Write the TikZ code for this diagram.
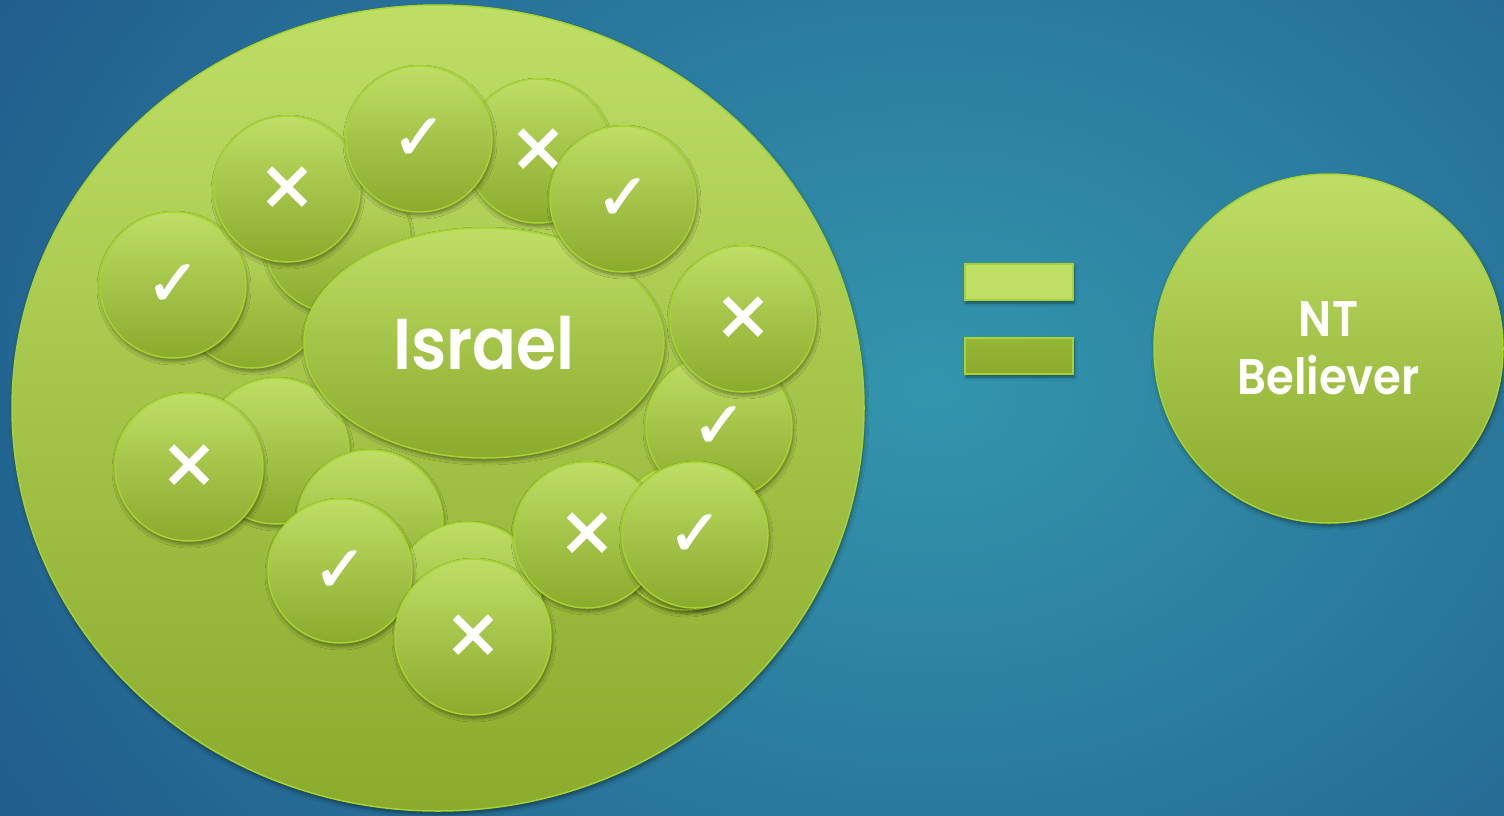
\documentclass[tikz,border=0pt]{standalone}
\usepackage{fontspec}
\setmainfont{Poppins}[BoldFont={Poppins SemiBold}, FakeStretch=0.9]
\newfontfamily\symfont{DejaVu Sans}[FakeBold=2]
\usetikzlibrary{shapes.geometric,shadows.blur}
\definecolor{gtop}{RGB}{190,222,102}
\definecolor{gbot}{RGB}{138,171,44}
\definecolor{gedge}{RGB}{168,212,48}
\definecolor{bgin}{RGB}{51,150,173}
\definecolor{bgout}{RGB}{30,84,136}
\newcommand\mkcheck{{\symfont\fontsize{64}{64}\selectfont ✓}}
\newcommand\mkcross{{\symfont\fontsize{66}{66}\selectfont ✕}}
\tikzset{
  greenfill/.style={top color=gtop, bottom color=gbot, draw=gedge, line width=1.5pt,
    blur shadow={shadow xshift=1pt, shadow yshift=-3pt, shadow blur steps=6, shadow opacity=45, shadow blur radius=4pt}},
  ball/.style={greenfill, circle, inner sep=0pt, minimum size=146pt, text=white},
  eqbar/.style={draw=gedge, line width=2pt, rectangle, inner sep=0pt, minimum width=108pt, minimum height=36pt,
    blur shadow={shadow xshift=1pt, shadow yshift=-3pt, shadow blur steps=5, shadow opacity=45, shadow blur radius=3pt}},
}
\begin{document}
\begin{tikzpicture}[x=1pt,y=-1pt]
\useasboundingbox (0,0) rectangle (1504,815);
\begin{scope}
\clip (0,0) rectangle (1504,815);
\fill[bgout] (-5,-5) rectangle (1510,820);
\shade[inner color=bgin, outer color=bgout] (930,390) ellipse [x radius=1250, y radius=950];
\end{scope}
% big circle
\node[greenfill, ellipse, inner sep=0pt, minimum width=852pt, minimum height=806pt] (group) at (438,408) {};
% unmarked circles behind
\node[ball] (b1) at (252,295) {};
\node[ball] (b2) at (337,240) {};
\node[ball] (b3) at (276,451) {};
\node[ball] (b4) at (370,523) {};
\node[ball] (b5) at (468,595) {};
\node[ball] (b6) at (686,537) {};
% Israel
\node[greenfill, ellipse, inner sep=0pt, minimum width=360pt, minimum height=230pt, text=white,
  font=\bfseries\fontsize{72}{72}\selectfont] (israel) at (484,343) {Israel};
% marked circles
\node[ball] (m1) at (173,285) {\mkcheck};
\node[ball] (m2) at (287,189) {\mkcross};
\node[ball, minimum size=144pt] (m3) at (538,151) {\mkcross};
\node[ball] (m4) at (419,139) {\mkcheck};
\node[ball] (m5) at (623,199) {\mkcheck};
\node[ball] (m6) at (719,427) {\mkcheck};
\node[ball] (m7) at (743,319) {\mkcross};
\node[ball, minimum size=148pt] (m8) at (189,467) {\mkcross};
\node[ball, minimum size=144pt] (m9) at (340,571) {\mkcheck};
\node[ball, minimum size=156pt] (m10) at (473,637) {\mkcross};
\node[ball] (m11) at (587,535) {\mkcross};
\node[ball] (m12) at (695,535) {\mkcheck};
% equals sign
\node[eqbar, fill=gtop] (eqtop) at (1019,282) {};
\node[eqbar, top color=gbot!80!gtop, bottom color=gbot] (eqbot) at (1019,356) {};
% NT Believer
\node[greenfill, circle, inner sep=0pt, minimum size=349pt, text=white, align=center,
  font=\bfseries\fontsize{50}{58}\selectfont] (nt) at (1328.5,348.5) {NT\\Believer};
\end{tikzpicture}
\end{document}
